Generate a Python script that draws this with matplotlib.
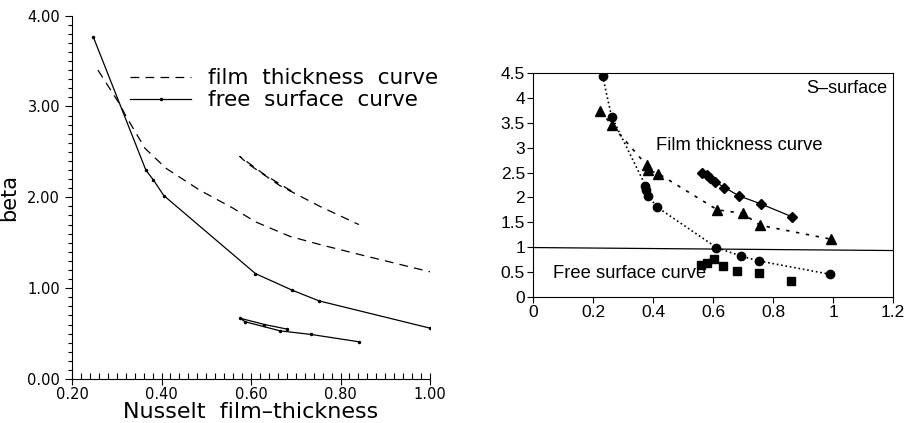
import matplotlib
matplotlib.use('Agg')
import matplotlib.pyplot as plt
from matplotlib.ticker import MultipleLocator

# ---- panel a: beta vs Nusselt film-thickness ----
free_x = [0.248, 0.365, 0.382, 0.405, 0.610, 0.691, 0.752, 1.000]
free_y = [3.76, 2.30, 2.19, 2.02, 1.16, 0.98, 0.86, 0.56]
free2_x = [0.680, 0.630, 0.575, 0.587, 0.665, 0.735, 0.841]
free2_y = [0.55, 0.60, 0.67, 0.63, 0.53, 0.49, 0.41]

film_x = [0.258, 0.306, 0.321, 0.363, 0.410, 0.485, 0.560, 0.610, 0.687, 0.754, 0.843, 1.000]
film_y = [3.40, 3.03, 2.89, 2.54, 2.32, 2.08, 1.88, 1.73, 1.57, 1.48, 1.37, 1.18]
film2_x = [0.690, 0.630, 0.575, 0.590, 0.664, 0.754, 0.841]
film2_y = [2.07, 2.25, 2.45, 2.38, 2.13, 1.90, 1.70]

# ---- panel b: S-surface ----
circ_x = [0.231, 0.261, 0.374, 0.375, 0.383, 0.414, 0.611, 0.692, 0.753, 0.991]
circ_y = [4.45, 3.63, 2.24, 2.15, 2.03, 1.80, 0.99, 0.82, 0.72, 0.45]
tri_x = [0.224, 0.261, 0.378, 0.383, 0.417, 0.614, 0.698, 0.756, 0.992]
tri_y = [3.75, 3.46, 2.65, 2.55, 2.48, 1.75, 1.68, 1.44, 1.16]
dia_x = [0.564, 0.578, 0.591, 0.606, 0.637, 0.687, 0.759, 0.863]
dia_y = [2.50, 2.45, 2.40, 2.32, 2.20, 2.03, 1.87, 1.61]
sq_x = [0.561, 0.580, 0.602, 0.633, 0.681, 0.752, 0.859]
sq_y = [0.64, 0.68, 0.76, 0.62, 0.52, 0.47, 0.32]
ref_x = [0.0, 1.2]
ref_y = [0.99, 0.93]

fig = plt.figure(figsize=(9.07, 4.23), dpi=100)

# left panel
ax1 = fig.add_axes([0.0794, 0.104, 0.3947, 0.859])
ax1.plot(film_x, film_y, ls=(0, (7, 5)), c='black', lw=0.9, label='film  thickness  curve')
ax1.plot(film2_x, film2_y, ls=(0, (7, 5)), c='black', lw=0.9)
ax1.plot(free_x, free_y, c='black', lw=0.9, marker='.', ms=3, label='free  surface  curve')
ax1.plot(free2_x, free2_y, c='black', lw=0.9, marker='.', ms=3)
ax1.set_xlim(0.2, 1.0)
ax1.set_ylim(0.0, 4.0)
ax1.spines['top'].set_visible(False)
ax1.spines['right'].set_visible(False)
ax1.xaxis.set_major_locator(MultipleLocator(0.2))
ax1.xaxis.set_minor_locator(MultipleLocator(0.02))
ax1.yaxis.set_major_locator(MultipleLocator(1.0))
ax1.yaxis.set_minor_locator(MultipleLocator(0.1))
ax1.xaxis.set_major_formatter(lambda v, p: '%.2f' % v)
ax1.yaxis.set_major_formatter(lambda v, p: '%.2f' % v)
ax1.tick_params(axis='x', which='major', direction='inout', length=8, labelsize=10.5, pad=2)
ax1.tick_params(axis='x', which='minor', direction='in', length=4, width=0.8)
ax1.tick_params(axis='y', which='major', direction='out', length=5, labelsize=10.5)
ax1.tick_params(axis='y', which='minor', direction='out', length=3, width=0.8)
ax1.set_xlabel('Nusselt  film\u2013thickness', fontsize=16, labelpad=0)
ax1.set_ylabel('beta', fontsize=15, labelpad=6)
leg = ax1.legend(loc='upper left', bbox_to_anchor=(0.132, 0.885), frameon=False,
                 fontsize=15.5, handlelength=2.85, handletextpad=0.75, labelspacing=0.1,
                 borderpad=0)

# right panel
ax2 = fig.add_axes([0.588, 0.2986, 0.3966, 0.528])
ax2.plot(circ_x, circ_y, ls=':', c='black', lw=1.2, marker='o', ms=6)
ax2.plot(tri_x, tri_y, ls=(0, (2, 4)), c='black', lw=1.2, marker='^', ms=7)
ax2.plot(dia_x, dia_y, ls='-', c='black', lw=0.9, marker='D', ms=5)
ax2.plot(sq_x, sq_y, ls='None', c='black', marker='s', ms=5.5)
ax2.plot(ref_x, ref_y, c='black', lw=0.9)
ax2.set_xlim(0, 1.2)
ax2.set_ylim(0, 4.5)
ax2.xaxis.set_major_locator(MultipleLocator(0.2))
ax2.yaxis.set_major_locator(MultipleLocator(0.5))
ax2.xaxis.set_major_formatter(lambda v, p: '%g' % round(v, 1))
ax2.yaxis.set_major_formatter(lambda v, p: '%g' % round(v, 1))
ax2.tick_params(direction='out', length=4, labelsize=12.5, pad=2)
for lab in ax2.get_xticklabels() + ax2.get_yticklabels():
    lab.set_family('Liberation Sans')
ax2.text(0.91, 4.1, 'S\u2013surface', fontsize=13, family='Liberation Sans')
ax2.text(0.41, 2.95, 'Film thickness curve', fontsize=13.2, family='Liberation Sans')
ax2.text(0.065, 0.37, 'Free surface curve', fontsize=13.2, family='Liberation Sans')

fig.savefig('out.png', dpi=100)
